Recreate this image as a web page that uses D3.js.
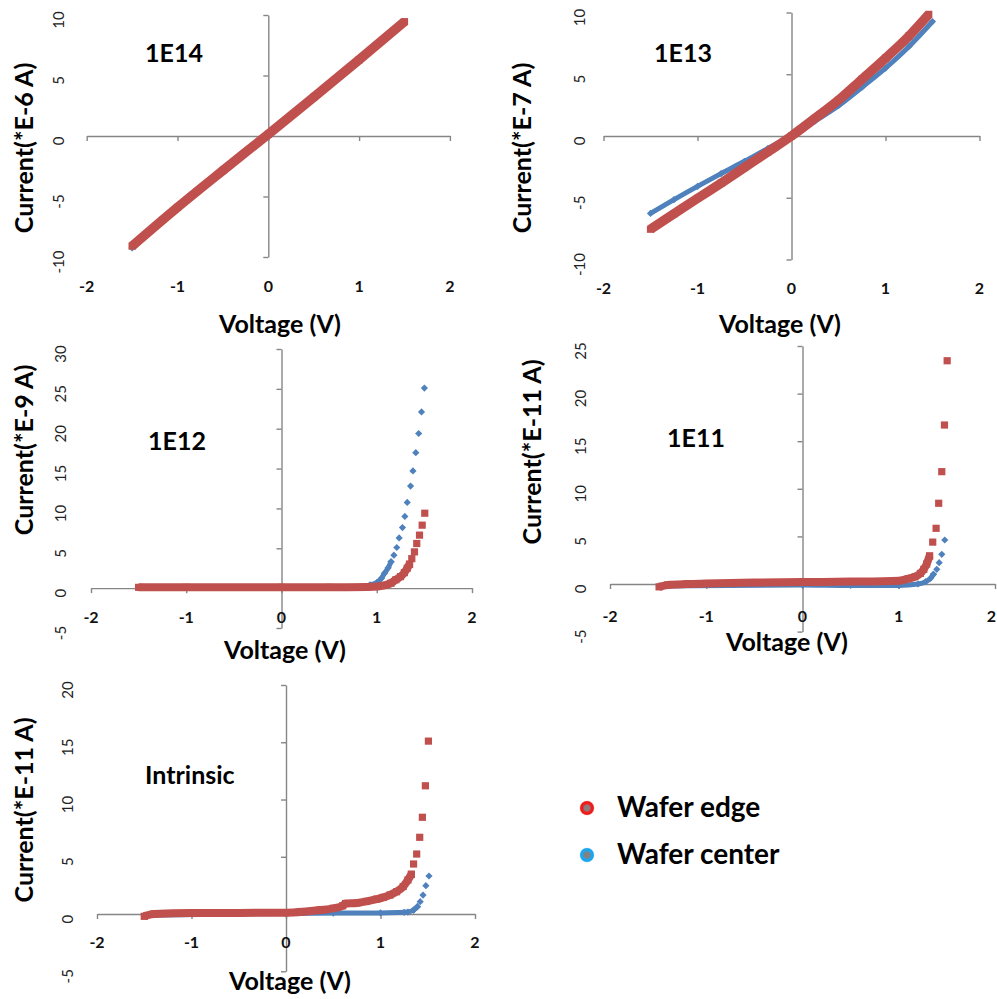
<!DOCTYPE html>
<html>
<head>
<meta charset="utf-8">
<script src="https://cdn.jsdelivr.net/npm/d3@7"></script>
<style>
  body { margin: 0; background: #fff; }
  svg { display: block; font-family: Lato, "Open Sans", sans-serif; }
</style>
</head>
<body>
<svg id="chart" width="997" height="999"></svg>
<script>
'use strict';

// ---- data ----
const voltageTicks = [-2, -1, 0, 1, 2];
const panelNames = ['1E14', '1E13', '1E12', '1E11', 'Intrinsic'];
const currentTitles = ['Current(*E-6 A)', 'Current(*E-7 A)', 'Current(*E-9 A)', 'Current(*E-11 A)', 'Current(*E-11 A)'];
const currentTicks = [
  [-10, -5, 0, 5, 10],
  [-10, -5, 0, 5, 10],
  [-5, 0, 5, 10, 15, 20, 25, 30],
  [-5, 0, 5, 10, 15, 20, 25],
  [-5, 0, 5, 10, 15, 20]
];
const legendNames = ['Wafer edge', 'Wafer center'];

// [voltage, current] - dense part (markers merge into a band)
const edge1E14 = [[-1.5, -9.1], [-1.0, -5.9], [-0.5, -2.85], [0, 0.15], [0.5, 3.2], [1.0, 6.3], [1.5, 9.45]];
const center1E14 = [[-1.5, -9.25], [-1.0, -6.0], [-0.5, -2.95], [0, 0.1], [0.5, 3.15], [1.0, 6.25], [1.5, 9.4]];

const edge1E13 = [[-1.5, -7.55], [-1.25, -6.3], [-1.0, -5.05], [-0.75, -3.82], [-0.5, -2.55], [-0.25, -1.28], [0, 0],
  [0.25, 1.43], [0.5, 2.9], [0.75, 4.6], [1.0, 6.3], [1.25, 8.1], [1.46, 9.85]];
const center1E13 = [[-1.5, -6.27], [-1.25, -5.15], [-1.0, -4.08], [-0.75, -3.05], [-0.5, -2.05], [-0.25, -1.0], [0, 0],
  [0.25, 1.2], [0.5, 2.45], [0.75, 3.95], [1.0, 5.5], [1.25, 7.25], [1.5, 9.27]];

const edge1E12 = [[-1.5, 0.1], [-1.0, 0.1], [0, 0.1], [0.5, 0.1], [0.9, 0.15], [1.0, 0.2], [1.08, 0.35], [1.15, 0.63],
  [1.2, 1.05], [1.25, 1.45], [1.29, 1.95], [1.32, 2.5], [1.344, 3.0]];
const edgeDots1E12 = [[1.344, 3.0], [1.368, 3.7], [1.396, 4.55], [1.42, 5.6], [1.449, 6.65], [1.477, 7.9], [1.504, 9.4]];
const center1E12 = [[-1.5, 0.05], [0, 0.05], [0.8, 0.1], [0.93, 0.4], [1.0, 0.7], [1.05, 1.25], [1.08, 1.85],
  [1.12, 2.55], [1.15, 3.3]];
const centerDots1E12 = [[1.15, 3.3], [1.18, 4.14], [1.21, 5.1], [1.235, 6.3], [1.27, 7.6], [1.295, 9.0], [1.32, 10.75],
  [1.355, 12.8], [1.38, 14.7], [1.41, 17.0], [1.44, 19.4], [1.47, 22.1], [1.50, 25.1]];

const edge1E11 = [[-1.49, -0.3], [-1.4, -0.1], [-1.2, 0.0], [-1.0, 0.05], [-0.5, 0.15], [0, 0.2], [0.5, 0.25],
  [1.0, 0.35], [1.1, 0.56], [1.17, 0.77], [1.225, 1.12], [1.26, 1.54], [1.29, 2.1], [1.32, 2.94]];
const edgeDots1E11 = [[1.32, 2.94], [1.353, 4.4], [1.388, 5.85], [1.415, 8.48], [1.447, 11.8], [1.475, 16.7], [1.503, 23.45]];
const center1E11 = [[-1.49, -0.2], [0, -0.1], [0.5, -0.15], [1.0, -0.15], [1.2, 0.0], [1.28, 0.24], [1.33, 0.6], [1.36, 1.02]];
const centerDots1E11 = [[1.36, 1.02], [1.395, 1.54], [1.42, 2.24], [1.447, 3.12], [1.478, 4.62]];

const edgeIntrinsic = [[-1.5, -0.2], [-1.4, 0.0], [-1.0, 0.1], [-0.5, 0.1], [0, 0.12], [0.18, 0.2], [0.36, 0.35],
  [0.5, 0.5], [0.6, 0.72], [0.63, 0.92], [0.75, 0.97], [0.85, 1.1], [0.96, 1.3], [1.03, 1.45], [1.10, 1.66],
  [1.17, 1.95], [1.24, 2.4], [1.29, 2.97], [1.327, 3.47]];
const edgeDotsIntrinsic = [[1.327, 3.47], [1.35, 4.37], [1.383, 5.24], [1.415, 6.7], [1.443, 8.45], [1.475, 11.2], [1.507, 15.1]];
const centerIntrinsic = [[-1.5, -0.1], [0, 0.05], [0.5, 0.08], [1.0, 0.1], [1.25, 0.15], [1.29, 0.17], [1.35, 0.35], [1.39, 0.64]];
const centerDotsIntrinsic = [[1.35, 0.35], [1.39, 0.64], [1.42, 1.08], [1.45, 1.66], [1.48, 2.48], [1.513, 3.32]];

const edgeBands = [edge1E14, edge1E13, edge1E12, edge1E11, edgeIntrinsic];
const edgeDots = [[], [], edgeDots1E12, edgeDots1E11, edgeDotsIntrinsic];
const centerBands = [center1E14, center1E13, center1E12, center1E11, centerIntrinsic];
const centerDots = [[], [], centerDots1E12, centerDots1E11, centerDotsIntrinsic];

// ---- layout (pixels) ----
const layout = [
  {x: [86.7, 449.9], y: [257, 15], yLabelX: 58, xLabelY: 292, titleX: [23, 148], xTitle: [280, 333], name: [145, 62], band: 9.5},
  {x: [603.5, 979.5], y: [259.5, 12.5], yLabelX: 579, xLabelY: 294, titleX: [521, 148], xTitle: [780, 333], name: [654, 62], band: 9.5},
  {x: [91, 472], y: [628, 349], yLabelX: 60, xLabelY: 623, titleX: [23, 450], xTitle: [285, 659], name: [148, 450], band: 8},
  {x: [610, 995], y: [631.6, 346], yLabelX: 580, xLabelY: 622, titleX: [531, 452], xTitle: [787, 651], name: [667, 447], band: 8},
  {x: [97, 475], y: [971.3, 685], yLabelX: 67, xLabelY: 948, titleX: [23, 810], xTitle: [290, 990], name: [145, 784], band: 8}
];

const RED = '#c0504d';
const BLUE = '#4f81bd';
const AXIS = '#868686';
const WIDTH = 997;

const svg = d3.select('#chart');

const squarePath = 'M-3.6,-3.6H3.6V3.6H-3.6Z';
const diamondPath = 'M0,-3.6L3.6,0L0,3.6L-3.6,0Z';

function drawSeries(g, x, y, band, dots, color, width, shape) {
  const line = d3.line().x(d => x(d[0])).y(d => y(d[1])).curve(d3.curveMonotoneX);
  g.append('path')
    .datum(band)
    .attr('d', line)
    .attr('fill', 'none')
    .attr('stroke', color)
    .attr('stroke-width', width)
    .attr('stroke-linejoin', 'round');

  g.selectAll(null)
    .data(band.concat(dots))
    .enter().append('path')
    .attr('d', shape)
    .attr('transform', d => `translate(${x(d[0])},${y(d[1])})`)
    .attr('fill', color);
}

function drawPanel(i) {
  const p = layout[i];
  const ticks = currentTicks[i];
  const x = d3.scaleLinear().domain([-2, 2]).range(p.x);
  const y = d3.scaleLinear().domain([ticks[0], ticks[ticks.length - 1]]).range(p.y);
  const g = svg.append('g');

  // axes cross at the origin, labels sit low/left like Excel
  const yAxis = g.append('g').attr('transform', `translate(${x(0)},0)`)
    .call(d3.axisLeft(y).tickValues(ticks).tickSize(5).tickSizeOuter(0).tickFormat(''));
  const xAxis = g.append('g').attr('transform', `translate(0,${y(0)})`)
    .call(d3.axisBottom(x).tickValues(voltageTicks).tickSize(5).tickSizeOuter(0).tickFormat(''));
  [yAxis, xAxis].forEach(a => {
    a.select('.domain').attr('stroke', AXIS).attr('stroke-width', 1.4);
    a.selectAll('.tick line').attr('stroke', AXIS).attr('stroke-width', 1.4);
  });

  g.selectAll(null).data(voltageTicks).enter().append('text')
    .attr('x', d => x(d))
    .attr('y', p.xLabelY)
    .attr('text-anchor', 'middle')
    .attr('font-size', 16)
    .attr('font-weight', 'bold')
    .attr('fill', '#111')
    .text(d => d)
    .each(function () {
      // keep a label that would run past the right edge inside the page
      const b = this.getBBox();
      if (b.x + b.width > WIDTH - 1) {
        d3.select(this).attr('x', +d3.select(this).attr('x') - (b.x + b.width - WIDTH + 1));
      }
    });

  g.selectAll(null).data(ticks).enter().append('text')
    .attr('transform', d => `translate(${p.yLabelX},${y(d) + 5}) rotate(-90)`)
    .attr('text-anchor', 'middle')
    .attr('dominant-baseline', 'central')
    .attr('font-size', 15)
    .attr('fill', '#222')
    .text(d => d);

  g.append('text')
    .attr('transform', `translate(${p.titleX[0]},${p.titleX[1]}) rotate(-90)`)
    .attr('text-anchor', 'middle')
    .attr('dominant-baseline', 'central')
    .attr('font-size', 25)
    .attr('font-weight', 'bold')
    .attr('fill', '#000')
    .text(currentTitles[i]);

  g.append('text')
    .attr('x', p.xTitle[0])
    .attr('y', p.xTitle[1])
    .attr('text-anchor', 'middle')
    .attr('font-size', 25)
    .attr('font-weight', 'bold')
    .attr('fill', '#000')
    .text('Voltage (V)');

  g.append('text')
    .attr('x', p.name[0])
    .attr('y', p.name[1])
    .attr('font-size', 25)
    .attr('font-weight', 'bold')
    .attr('fill', '#000')
    .text(panelNames[i]);

  drawSeries(g, x, y, centerBands[i], centerDots[i], BLUE, 5, diamondPath);
  drawSeries(g, x, y, edgeBands[i], edgeDots[i], RED, p.band, squarePath);
}

d3.range(5).forEach(drawPanel);

// legend
const defs = svg.append('defs');
[['legRed', '#ee1d1d'], ['legBlue', '#1ba6ee']].forEach(([id, c]) => {
  const gr = defs.append('radialGradient').attr('id', id);
  gr.append('stop').attr('offset', '0%').attr('stop-color', '#8a7f80');
  gr.append('stop').attr('offset', '35%').attr('stop-color', '#8a7f80');
  gr.append('stop').attr('offset', '60%').attr('stop-color', c);
  gr.append('stop').attr('offset', '85%').attr('stop-color', c);
  gr.append('stop').attr('offset', '100%').attr('stop-color', c).attr('stop-opacity', 0.2);
});
const legend = svg.append('g');
legendNames.forEach((name, k) => {
  const cy = 808 + k * 47;
  legend.append('circle').attr('cx', 587).attr('cy', cy).attr('r', 7.5)
    .attr('fill', `url(#${k === 0 ? 'legRed' : 'legBlue'})`);
  legend.append('text')
    .attr('x', 617)
    .attr('y', cy + 9)
    .attr('font-size', 28)
    .attr('font-weight', 'bold')
    .attr('fill', '#000')
    .text(name);
});
</script>
</body>
</html>
